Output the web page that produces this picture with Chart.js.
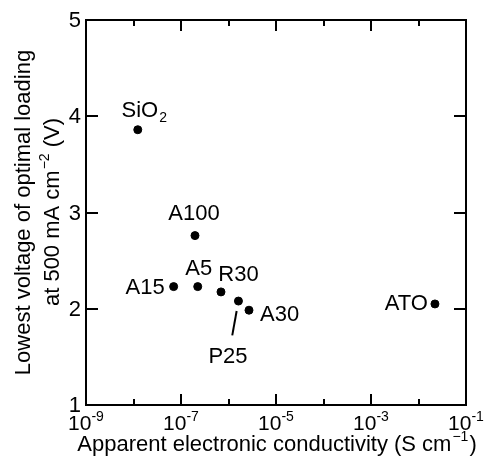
<!DOCTYPE html>
<html>
<head>
<meta charset="utf-8">
<script src="https://cdn.jsdelivr.net/npm/chart.js@4/dist/chart.umd.min.js"></script>
<style>
  html, body { margin: 0; padding: 0; background: #fff; }
  #wrap { width: 485px; height: 457px; }
</style>
</head>
<body>
<div id="wrap"><canvas id="c" width="485" height="457"></canvas></div>
<script>
// ---- data ----
const categories   = ['SiO2', 'A100', 'A15', 'A5', 'R30', 'P25', 'A30', 'ATO'];
const conductivity = [1.23e-8, 1.97e-7, 7.0e-8, 2.25e-7, 6.95e-7, 1.62e-6, 2.7e-6, 0.0222];
const voltage      = [3.86, 2.76, 2.23, 2.23, 2.175, 2.08, 1.985, 2.05];
const xTickValues  = [1e-9, 1e-8, 1e-7, 1e-6, 1e-5, 1e-4, 1e-3, 1e-2, 1e-1];
const xMajorTicks  = [1e-9, 1e-7, 1e-5, 1e-3, 1e-1];
const xTickExps    = ['-9', '-7', '-5', '-3', '-1'];
const yTickValues  = [1, 2, 3, 4, 5];
const yTickLabels  = ['1', '2', '3', '4', '5'];

// ---- label placement (style, not data) ----
const labelPlace = {
  SiO2: { dx: 6,    dy: -13,  align: 'center', base: 'alphabetic', sub: '2', main: 'SiO' },
  A100: { dx: -1,   dy: -16,  align: 'center', base: 'alphabetic' },
  A5:   { dx: 1,    dy: -12,  align: 'center', base: 'alphabetic' },
  R30:  { dx: 17.5, dy: -10.5,align: 'center', base: 'alphabetic' },
  A15:  { dx: -9,   dy: 7,    align: 'right',  base: 'alphabetic' },
  A30:  { dx: 11,   dy: 10.5, align: 'left',   base: 'alphabetic' },
  ATO:  { dx: -7,   dy: 6,    align: 'right',  base: 'alphabetic' },
  P25:  { dx: -10.5,dy: 61.5, align: 'center', base: 'alphabetic', leader: [-1.8, 10, -6.2, 34.3] }
};

const FONT = '"Liberation Sans", Arial, Helvetica, sans-serif';

const overlay = {
  id: 'overlay',
  afterDraw(chart) {
    const ctx = chart.ctx;
    const xs = chart.scales.x, ys = chart.scales.y;
    const a = chart.chartArea;
    ctx.save();
    ctx.strokeStyle = '#000';
    ctx.fillStyle = '#000';
    ctx.lineWidth = 2;
    // frame
    ctx.strokeRect(a.left, a.top, a.right - a.left, a.bottom - a.top);
    // x ticks (bottom & top, inward)
    xTickValues.forEach(v => {
      const px = Math.round(xs.getPixelForValue(v));
      const major = xMajorTicks.includes(v);
      const len = major ? 11 : 6;
      if (px <= a.left + 1 || px >= a.right - 1) return;
      ctx.beginPath();
      ctx.moveTo(px, a.bottom); ctx.lineTo(px, a.bottom - len);
      ctx.moveTo(px, a.top); ctx.lineTo(px, a.top + len);
      ctx.stroke();
    });
    // y ticks (left & right, inward)
    yTickValues.forEach(v => {
      const py = Math.round(ys.getPixelForValue(v));
      if (py <= a.top + 1 || py >= a.bottom - 1) return;
      ctx.beginPath();
      ctx.moveTo(a.left, py); ctx.lineTo(a.left + 12, py);
      ctx.moveTo(a.right, py); ctx.lineTo(a.right - 12, py);
      ctx.stroke();
    });
    // y tick labels
    ctx.font = '22px ' + FONT;
    ctx.textAlign = 'right';
    ctx.textBaseline = 'middle';
    yTickValues.forEach((v, i) => {
      const py = ys.getPixelForValue(v);
      ctx.fillText(yTickLabels[i], a.left - 5, py + 1);
    });
    // x tick labels with superscript exponents
    ctx.textBaseline = 'alphabetic';
    ctx.textAlign = 'left';
    xMajorTicks.forEach((v, i) => {
      const px = xs.getPixelForValue(v);
      ctx.font = '21px ' + FONT;
      const wBase = ctx.measureText('10').width;
      ctx.font = '14px ' + FONT;
      const wExp = ctx.measureText(xTickExps[i]).width;
      let left = px - (wBase + wExp) / 2;
      if (left + wBase + wExp > chart.width) left = chart.width - wBase - wExp;
      ctx.font = '21px ' + FONT;
      ctx.fillText('10', left, 430);
      ctx.font = '14px ' + FONT;
      ctx.fillText(xTickExps[i], left + wBase, 421);
    });
    // x axis title
    {
      const t1 = 'Apparent electronic conductivity (S cm', t2 = '\u22121', t3 = ')';
      ctx.font = '22px ' + FONT;
      const w1 = ctx.measureText(t1).width, w3 = ctx.measureText(t3).width;
      ctx.font = '14px ' + FONT;
      const w2 = ctx.measureText(t2).width;
      const cx = (a.left + a.right) / 2;
      let x = cx - (w1 + w2 + w3) / 2;
      ctx.font = '22px ' + FONT; ctx.fillText(t1, x, 451);
      ctx.font = '14px ' + FONT; ctx.fillText(t2, x + w1 + 1, 441);
      ctx.font = '22px ' + FONT; ctx.fillText(t3, x + w1 + w2 + 2, 451);
    }
    // y axis title (rotated, two lines)
    {
      const cy = (a.top + a.bottom) / 2;
      ctx.save();
      ctx.translate(30, cy);
      ctx.rotate(-Math.PI / 2);
      ctx.font = '22px ' + FONT;
      ctx.textAlign = 'center';
      ctx.fillText('Lowest voltage of optimal loading', 0, 0);
      ctx.restore();

      const s1 = 'at 500 mA cm', s2 = '\u22122', s3 = ' (V)';
      ctx.save();
      ctx.translate(59, cy);
      ctx.rotate(-Math.PI / 2);
      ctx.textAlign = 'left';
      ctx.font = '22px ' + FONT;
      const w1 = ctx.measureText(s1).width, w3 = ctx.measureText(s3).width;
      ctx.font = '14px ' + FONT;
      const w2 = ctx.measureText(s2).width;
      let x = -(w1 + w2 + w3) / 2;
      ctx.font = '22px ' + FONT; ctx.fillText(s1, x, 0);
      ctx.font = '14px ' + FONT; ctx.fillText(s2, x + w1 + 1, -10);
      ctx.font = '22px ' + FONT; ctx.fillText(s3, x + w1 + w2 + 1, 0);
      ctx.restore();
    }
    // point labels
    categories.forEach((name, i) => {
      const p = labelPlace[name];
      const px = xs.getPixelForValue(conductivity[i]);
      const py = ys.getPixelForValue(voltage[i]);
      ctx.font = '22px ' + FONT;
      ctx.textBaseline = p.base;
      if (p.sub) {
        const wm = ctx.measureText(p.main).width;
        ctx.font = '14px ' + FONT;
        const ws = ctx.measureText(p.sub).width;
        const left = px + p.dx - (wm + ws) / 2;
        ctx.textAlign = 'left';
        ctx.font = '22px ' + FONT; ctx.fillText(p.main, left, py + p.dy);
        ctx.font = '14px ' + FONT; ctx.fillText(p.sub, left + wm + 1, py + p.dy + 5);
      } else {
        ctx.textAlign = p.align;
        ctx.fillText(name, px + p.dx, py + p.dy);
      }
      if (p.leader) {
        ctx.beginPath();
        ctx.lineWidth = 2;
        ctx.moveTo(px + p.leader[0], py + p.leader[1]);
        ctx.lineTo(px + p.leader[2], py + p.leader[3]);
        ctx.stroke();
      }
    });
    ctx.restore();
  }
};

new Chart(document.getElementById('c'), {
  type: 'scatter',
  data: {
    datasets: [{
      data: categories.map((c, i) => ({ x: conductivity[i], y: voltage[i] })),
      backgroundColor: '#000',
      borderColor: '#000',
      pointRadius: 4,
      pointHoverRadius: 4
    }]
  },
  options: {
    responsive: false,
    animation: false,
    events: [],
    layout: { padding: { left: 0, right: 19, top: 20, bottom: 0 } },
    plugins: { legend: { display: false }, tooltip: { enabled: false } },
    scales: {
      x: {
        type: 'logarithmic', min: 1e-9, max: 1e-1,
        ticks: { display: false }, grid: { display: false }, border: { display: false },
        afterFit: s => { s.height = 52; }
      },
      y: {
        type: 'linear', min: 1, max: 5,
        ticks: { display: false }, grid: { display: false }, border: { display: false },
        afterFit: s => { s.width = 86; }
      }
    }
  },
  plugins: [overlay]
});
</script>
</body>
</html>
